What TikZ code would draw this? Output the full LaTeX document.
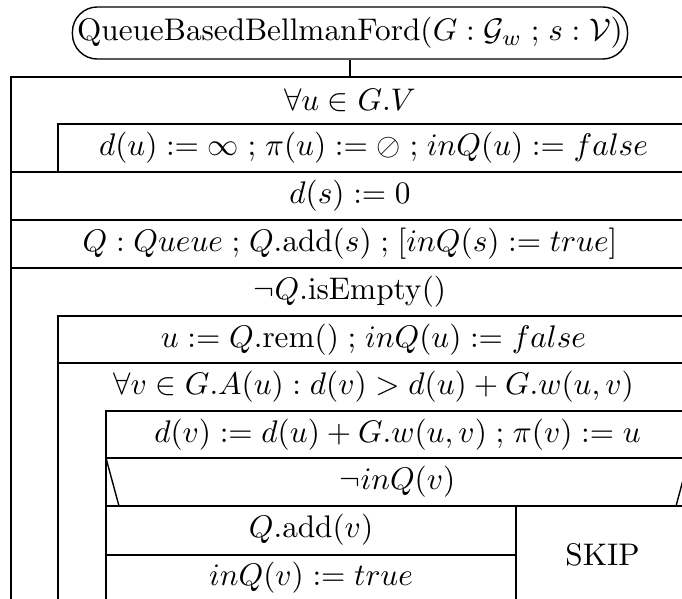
\documentclass[tikz,border=0pt]{standalone}
\usepackage{amsmath,amssymb}
\newcommand{\seqsep}{\mathrel{;}}
\begin{document}
\begin{tikzpicture}[x=0.32pt,y=-0.32pt,line width=0.45pt,
    titlebox/.style={draw,rounded corners=8pt,inner xsep=1.5pt,minimum height=16pt}]
    \useasboundingbox (0,0) rectangle (682,598);
    \clip (0,0) rectangle (682,598);

    % Title and link to the block
    \node[titlebox] (title) at (350,33) {$\mathrm{QueueBasedBellmanFord}(G:\mathcal{G}_w\seqsep s:\mathcal{V})$};
    \coordinate (top) at (350,77);
    \draw (title) -- (top);

    % Outer sequence
    \draw (11,620) -- (11,77) -- (689,77);
    \node (forU) at (350,100) {$\forall u\in G.V$};
    \draw (58,172) -- (58,124) -- (689,124);
    \node (initU) at (373.5,148) {$d(u):=\infty\seqsep\pi(u):=\oslash\seqsep inQ(u):=false$};
    \draw (11,172) -- (689,172);
    \node (initS) at (350,196) {$d(s):=0$};
    \draw (11,220) -- (689,220);
    \node (queue) at (350,244) {$Q:Queue\seqsep Q.\mathrm{add}(s)\seqsep[inQ(s):=true]$};
    \draw (11,268) -- (689,268);

    % While loop
    \node (whileQ) at (350,292) {$\neg Q.\mathrm{isEmpty}()$};
    \draw (58,620) -- (58,316) -- (689,316);
    \node (remU) at (373.5,340) {$u:=Q.\mathrm{rem}()\seqsep inQ(u):=false$};
    \draw (58,363) -- (689,363);
    \node (forV) at (373.5,387) {$\forall v\in G.A(u):d(v)>d(u)+G.w(u,v)$};

    % Inner for loop body
    \draw (106,620) -- (106,411) -- (689,411);
    \node (relax) at (397.5,435) {$d(v):=d(u)+G.w(u,v)\seqsep\pi(v):=u$};
    \draw (106,458) -- (689,458);
    \node (ifV) at (397.5,482) {$\neg inQ(v)$};
    \draw (106,458) -- (119,506);  % left slant
    \draw (676,506) -- (689,458);  % right slant
    \draw (106,506) -- (689,506);

    % Branches
    \draw (516,506) -- (516,620);
    \node (addV) at (311,530) {$Q.\mathrm{add}(v)$};
    \draw (106,555) -- (516,555);
    \node (markV) at (311,578) {$inQ(v):=true$};
    \node (skip) at (602.5,555) {SKIP};
\end{tikzpicture}
\end{document}
